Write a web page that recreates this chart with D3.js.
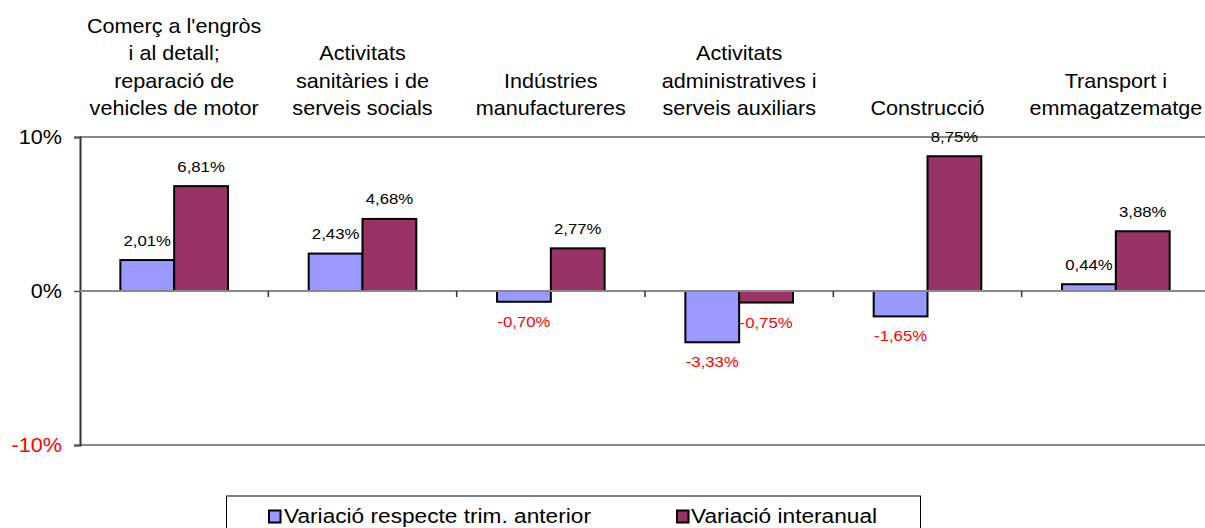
<!DOCTYPE html>
<html>
<head>
<meta charset="utf-8">
<script src="https://cdn.jsdelivr.net/npm/d3@7"></script>
<style>
  html, body { margin: 0; padding: 0; background: #fff; }
  svg { display: block; font-family: "Liberation Sans", Arial, sans-serif; }
</style>
</head>
<body>
<svg id="chart" width="1205" height="528"></svg>
<script>
// ---- data ----
const categories = [
  ["Comerç a l'engròs", "i al detall;", "reparació de", "vehicles de motor"],
  ["Activitats", "sanitàries i de", "serveis socials"],
  ["Indústries", "manufactureres"],
  ["Activitats", "administratives i", "serveis auxiliars"],
  ["Construcció"],
  ["Transport i", "emmagatzematge"]
];
const seriesNames = ["Variació respecte trim. anterior", "Variació interanual"];
const quarterly = [2.01, 2.43, -0.70, -3.33, -1.65, 0.44];
const yearly = [6.81, 4.68, 2.77, -0.75, 8.75, 3.88];
const yTicks = [-10, 0, 10];

(function () {
// ---- layout ----
const W = 1205, H = 528;
const pLeft = 80, pRight = 1210, pTop = 137, pBottom = 445;
const colors = ["#9999FF", "#993366"];
const SX = 1.08; // horizontal text stretch of the reference

const svg = d3.select("#chart");
const keys = categories.map((c, i) => i);
const x = d3.scaleBand().domain(keys).range([pLeft, pRight]).padding(0);
const y = d3.scaleLinear().domain([-10, 10]).range([pBottom, pTop]);
const bw = x.bandwidth() / 3.5;
const xs = d3.scaleBand().domain([0, 1]).range([0, 2 * bw]);

const fmt = v => v.toFixed(2).replace(".", ",") + "%";

function stext(g, tx, ty, str, size, anchor, color) {
  return g.append("text")
    .attr("transform", `translate(${tx},${ty}) scale(${SX},1)`)
    .attr("text-anchor", anchor)
    .attr("font-size", size)
    .attr("fill", color || "#000")
    .text(str);
}

// grid lines (10%, -10%)
const grid = svg.append("g");
[10, -10].forEach(t => {
  grid.append("line")
    .attr("x1", pLeft).attr("x2", W)
    .attr("y1", y(t)).attr("y2", y(t))
    .attr("stroke", "#888").attr("stroke-width", 2);
});

// y axis
const yAxis = svg.append("g").attr("transform", `translate(${pLeft},0)`)
  .call(d3.axisLeft(y).tickValues(yTicks).tickSize(6).tickFormat(""));
yAxis.select(".domain").attr("stroke", "#333").attr("stroke-width", 2);
yAxis.selectAll(".tick line").attr("stroke", "#555").attr("stroke-width", 1.5);
yTicks.forEach(t => {
  stext(svg, 62, y(t) + 7, t + "%", 20, "end", t < 0 ? "#FF0000" : "#000");
});

// bars
const series = [quarterly, yearly];
series.forEach((vals, s) => {
  svg.append("g").selectAll("rect")
    .data(vals)
    .join("rect")
    .attr("x", (d, i) => x(i) + (x.bandwidth() - 2 * bw) / 2 + xs(s))
    .attr("width", bw)
    .attr("y", d => y(Math.max(0, d)))
    .attr("height", d => Math.abs(y(d) - y(0)))
    .attr("fill", colors[s])
    .attr("stroke", "#000")
    .attr("stroke-width", 2);
});

// zero line + category ticks
const xAxis = svg.append("g").attr("transform", `translate(0,${y(0)})`);
xAxis.append("line")
  .attr("x1", pLeft).attr("x2", W)
  .attr("stroke", "#888").attr("stroke-width", 2);
keys.slice(1).forEach(k => {
  xAxis.append("line")
    .attr("x1", x(k)).attr("x2", x(k))
    .attr("y1", 0).attr("y2", 6)
    .attr("stroke", "#333").attr("stroke-width", 1.5);
});

// data labels
series.forEach((vals, s) => {
  vals.forEach((d, i) => {
    const cx = x(i) + (x.bandwidth() - 2 * bw) / 2 + xs(s) + bw / 2;
    const ty = d >= 0 ? y(d) - 14.5 : y(d) + 25;
    stext(svg, cx, ty, fmt(d), 15.5, "middle", d < 0 ? "#FF0000" : "#000");
  });
});

// category labels (bottom aligned above plot)
const lineH = 27.5, lastBase = 115;
categories.forEach((lines, i) => {
  const cx = x(i) + x.bandwidth() / 2;
  lines.forEach((ln, j) => {
    stext(svg, cx, lastBase - (lines.length - 1 - j) * lineH, ln, 20, "middle");
  });
});

// legend
const lg = svg.append("g");
lg.append("rect")
  .attr("x", 226.5).attr("y", 496).attr("width", 694).attr("height", 44)
  .attr("fill", "#fff").attr("stroke", "#000").attr("stroke-width", 1);
const legendItems = [
  { sq: 269, tx: 284 },
  { sq: 677, tx: 691 }
];
seriesNames.forEach((name, s) => {
  lg.append("rect")
    .attr("x", legendItems[s].sq).attr("y", 510.5).attr("width", 11.5).attr("height", 12)
    .attr("fill", colors[s]).attr("stroke", "#000").attr("stroke-width", 2);
  stext(lg, legendItems[s].tx, 523, name, 21, "start");
});
})();
</script>
</body>
</html>
